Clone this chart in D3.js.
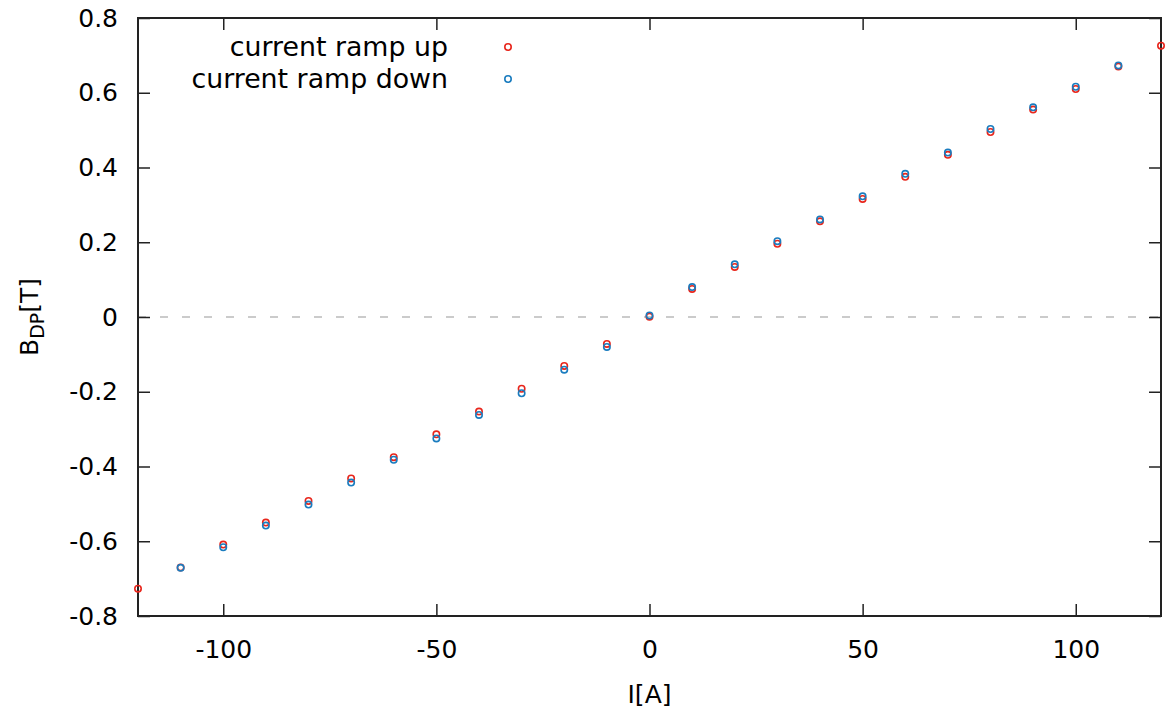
<!DOCTYPE html>
<html>
<head>
<meta charset="utf-8">
<script src="https://cdn.jsdelivr.net/npm/d3@7"></script>
<style>
  body { margin: 0; background: #fff; }
  svg text { font-family: "DejaVu Sans", sans-serif; fill: #000; }
</style>
</head>
<body>
<svg id="chart" width="1165" height="715"></svg>
<script>
// current values (A)
const currentsUp = [-120, -110, -100, -90, -80, -70, -60, -50, -40, -30, -20, -10, 0,
  10, 20, 30, 40, 50, 60, 70, 80, 90, 100, 110, 120];
const fieldUp = [-0.727, -0.670, -0.609, -0.550, -0.492, -0.432, -0.375, -0.314, -0.253, -0.192, -0.131, -0.072, 0.001,
  0.075, 0.134, 0.196, 0.256, 0.316, 0.375, 0.434, 0.495, 0.555, 0.610, 0.670, 0.726];

const currentsDown = [-110, -100, -90, -80, -70, -60, -50, -40, -30, -20, -10, 0,
  10, 20, 30, 40, 50, 60, 70, 80, 90, 100, 110];
const fieldDown = [-0.671, -0.616, -0.558, -0.502, -0.443, -0.382, -0.325, -0.262, -0.204, -0.141, -0.080, 0.004,
  0.080, 0.141, 0.203, 0.261, 0.323, 0.383, 0.440, 0.503, 0.561, 0.616, 0.673];

const xTicks = [-100, -50, 0, 50, 100];
const yTicks = [-0.8, -0.6, -0.4, -0.2, 0, 0.2, 0.4, 0.6, 0.8];

const series = [
  { name: 'current ramp up', color: '#e8261c', xs: currentsUp, ys: fieldUp },
  { name: 'current ramp down', color: '#1a7cbf', xs: currentsDown, ys: fieldDown },
];

const svg = d3.select('#chart');
const margin = { left: 138, right: 4, top: 18, bottom: 99 };
const width = 1165 - margin.left - margin.right;
const height = 715 - margin.top - margin.bottom;

const g = svg.append('g').attr('transform', `translate(${margin.left},${margin.top})`);

const x = d3.scaleLinear().domain([-120, 120]).range([0, width]);
const y = d3.scaleLinear().domain([-0.8, 0.8]).range([height, 0]);

// plain hyphen for negatives, like the original
const fmtY = (d) => (d === 0 ? '0' : d.toFixed(1));
const fmtX = (d) => String(d);

// zero line
g.append('line')
  .attr('x1', 0).attr('x2', width)
  .attr('y1', y(0)).attr('y2', y(0))
  .attr('stroke', '#bbb')
  .attr('stroke-width', 1.5)
  .attr('stroke-dasharray', '8,14');

// axes (ticks pointing inwards, mirrored on top and right)
const tickLen = 12;
const styleAxis = (sel) => {
  sel.select('.domain').remove();
  sel.selectAll('line').attr('stroke', '#222').attr('stroke-width', 1.5);
  sel.selectAll('text').style('font-size', '25px');
};

g.append('g')
  .attr('transform', `translate(0,${height})`)
  .call(d3.axisBottom(x).tickValues(xTicks).tickSize(-tickLen).tickPadding(24).tickFormat(fmtX))
  .call(styleAxis);

g.append('g')
  .call(d3.axisTop(x).tickValues(xTicks).tickSize(-tickLen).tickFormat(''))
  .call(styleAxis);

g.append('g')
  .call(d3.axisLeft(y).tickValues(yTicks).tickSize(-tickLen).tickPadding(20).tickFormat(fmtY))
  .call(styleAxis);

g.append('g')
  .attr('transform', `translate(${width},0)`)
  .call(d3.axisRight(y).tickValues(yTicks).tickSize(-tickLen).tickFormat(''))
  .call(styleAxis);

// frame
g.append('rect')
  .attr('width', width).attr('height', height)
  .attr('fill', 'none')
  .attr('stroke', '#222')
  .attr('stroke-width', 2);

// points
series.forEach((s) => {
  g.append('g').selectAll('circle')
    .data(s.xs.map((v, i) => [v, s.ys[i]]))
    .join('circle')
    .attr('cx', (d) => x(d[0]))
    .attr('cy', (d) => y(d[1]))
    .attr('r', 3.2)
    .attr('fill', 'none')
    .attr('stroke', s.color)
    .attr('stroke-width', 1.6);
});

// legend
const legend = g.append('g').attr('transform', 'translate(310,29)');
series.forEach((s, i) => {
  const row = legend.append('g').attr('transform', `translate(0,${i * 32})`);
  row.append('text')
    .attr('text-anchor', 'end')
    .attr('dy', '0.35em')
    .style('font-size', '26.8px')
    .text(s.name);
  row.append('circle')
    .attr('cx', 60).attr('cy', 0).attr('r', 3.2)
    .attr('fill', 'none')
    .attr('stroke', s.color)
    .attr('stroke-width', 1.6);
});

// axis titles
svg.append('text')
  .attr('x', margin.left + width / 2)
  .attr('y', 703)
  .attr('text-anchor', 'middle')
  .style('font-size', '25px')
  .text('I[A]');

const yTitle = svg.append('text')
  .attr('transform', `translate(38,${margin.top + y(0)}) rotate(-90)`)
  .attr('text-anchor', 'middle')
  .style('font-size', '25px');
yTitle.append('tspan').text('B');
yTitle.append('tspan').attr('dy', 6).style('font-size', '19px').text('DP');
yTitle.append('tspan').attr('dy', -6).text('[T]');
</script>
</body>
</html>
